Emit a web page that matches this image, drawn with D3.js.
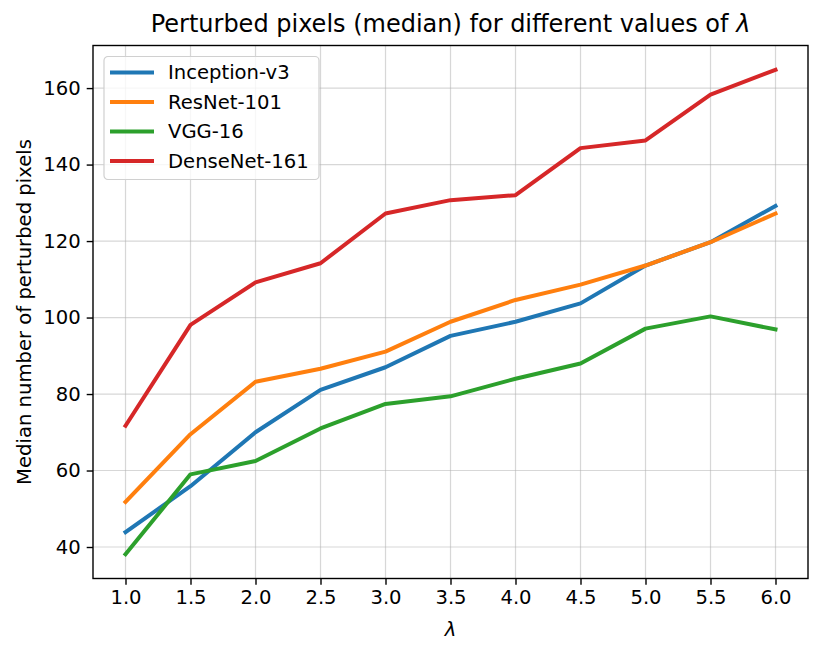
<!DOCTYPE html>
<html>
<head>
<meta charset="utf-8">
<script src="https://cdn.jsdelivr.net/npm/d3@7"></script>
<style>
  body { margin: 0; background: #fff; }
  svg { font-family: "DejaVu Sans", sans-serif; }
</style>
</head>
<body>
<div id="chart"></div>
<script>
const lambdas = [ 1.0, 1.5, 2.0, 2.5, 3.0, 3.5, 4.0, 4.5, 5.0, 5.5, 6.0 ];

const inception = [ 43.9, 55.9, 70, 81.1, 87, 95.2, 98.9, 103.7, 113.6, 119.7, 129.2 ];
const resnet = [ 51.8, 69.5, 83.2, 86.6, 91.1, 98.9, 104.6, 108.6, 113.6, 119.7, 127.2 ];
const vgg = [ 38.1, 59, 62.5, 71, 77.4, 79.4, 84, 88, 97.1, 100.3, 96.9 ];
const densenet = [ 71.7, 98.1, 109.2, 114.2, 127.2, 130.7, 132, 144.3, 146.3, 158.3, 164.8 ];

const seriesNames = [ 'Inception-v3', 'ResNet-101', 'VGG-16', 'DenseNet-161' ];
const seriesColors = [ '#1f77b4', '#ff7f0e', '#2ca02c', '#d62728' ];
const yTicks = [ 40, 60, 80, 100, 120, 140, 160 ];

const series = [ inception, resnet, vgg, densenet ].map((values, i) => ({
  name: seriesNames[i],
  color: seriesColors[i],
  values: values.map((v, j) => ({ x: lambdas[j], y: v }))
}));

const width = 830;
const height = 654;
const margin = { top: 45.5, right: 22, bottom: 75.5, left: 93 };
const w = width - margin.left - margin.right;
const h = height - margin.top - margin.bottom;
const fs = 19.6;

const svg = d3.select('#chart').append('svg')
  .attr('width', width)
  .attr('height', height)
  .attr('viewBox', [ 0, 0, width, height ]);

const plot = svg.append('g')
  .attr('transform', `translate(${margin.left},${margin.top})`);

// matplotlib style 5% margins
const allY = series.flatMap(s => s.values.map(d => d.y));
const [ ymin, ymax ] = d3.extent(allY);
const [ xmin, xmax ] = d3.extent(lambdas);
const xpad = (xmax - xmin) * 0.05;
const ypad = (ymax - ymin) * 0.05;

const x = d3.scaleLinear().domain([ xmin - xpad, xmax + xpad ]).range([ 0, w ]);
const y = d3.scaleLinear().domain([ ymin - ypad, ymax + ypad ]).range([ h, 0 ]);

// grid
plot.append('g')
  .selectAll('line')
    .data(lambdas)
  .enter().append('line')
    .attr('x1', d => x(d)).attr('x2', d => x(d))
    .attr('y1', 0).attr('y2', h)
    .attr('stroke', '#b0b0b0').attr('stroke-opacity', 0.5).attr('stroke-width', 1.2);
plot.append('g')
  .selectAll('line')
    .data(yTicks)
  .enter().append('line')
    .attr('y1', d => y(d)).attr('y2', d => y(d))
    .attr('x1', 0).attr('x2', w)
    .attr('stroke', '#b0b0b0').attr('stroke-opacity', 0.5).attr('stroke-width', 1.2);

// axes
const xAxis = plot.append('g')
  .attr('transform', `translate(0,${h})`)
  .call(d3.axisBottom(x).tickValues(lambdas).tickFormat(d3.format('.1f')).tickSize(6.3).tickPadding(5.5))
  .attr('font-size', fs)
  .attr('font-family', '"DejaVu Sans", sans-serif');
xAxis.select('.domain').remove();
xAxis.selectAll('line').attr('stroke-width', 1.4);
xAxis.selectAll('text').attr('fill', '#000');

const yAxis = plot.append('g')
  .call(d3.axisLeft(y).tickValues(yTicks).tickSize(6.3).tickPadding(6))
  .attr('font-size', fs)
  .attr('font-family', '"DejaVu Sans", sans-serif');
yAxis.select('.domain').remove();
yAxis.selectAll('line').attr('stroke-width', 1.4);
yAxis.selectAll('text').attr('fill', '#000');

// lines
const line = d3.line().x(d => x(d.x)).y(d => y(d.y));
plot.append('g')
  .selectAll('path')
    .data(series)
  .enter().append('path')
    .attr('d', d => line(d.values))
    .attr('fill', 'none')
    .attr('stroke', d => d.color)
    .attr('stroke-width', 4)
    .attr('stroke-linejoin', 'round')
    .attr('stroke-linecap', 'square');

// frame
plot.append('rect')
  .attr('width', w).attr('height', h)
  .attr('fill', 'none').attr('stroke', '#000').attr('stroke-width', 1.4);

// legend
const legend = plot.append('g')
  .attr('transform', 'translate(11,11)');
legend.append('rect')
  .attr('width', 215).attr('height', 123)
  .attr('rx', 4)
  .attr('fill', '#fff').attr('fill-opacity', 0.8)
  .attr('stroke', '#d0d0d0').attr('stroke-width', 1.2);
const item = legend.selectAll('g.item')
    .data(series)
  .enter().append('g')
    .attr('class', 'item')
    .attr('transform', (d, i) => `translate(0,${16 + i * 29.5})`);
item.append('line')
  .attr('x1', 6).attr('x2', 50)
  .attr('stroke', d => d.color).attr('stroke-width', 4);
item.append('text')
  .attr('x', 64).attr('dy', '0.35em')
  .attr('font-size', fs)
  .text(d => d.name);

// title and labels
svg.append('text')
  .attr('x', margin.left + w / 2).attr('y', 32)
  .attr('text-anchor', 'middle')
  .attr('font-size', 24)
  .html('Perturbed pixels (median) for different values of <tspan font-style="italic">λ</tspan>');

svg.append('text')
  .attr('x', margin.left + w / 2).attr('y', 636)
  .attr('text-anchor', 'middle')
  .attr('font-size', fs)
  .attr('font-style', 'italic')
  .text('λ');

svg.append('text')
  .attr('transform', `translate(31,${margin.top + h / 2}) rotate(-90)`)
  .attr('text-anchor', 'middle')
  .attr('font-size', fs)
  .text('Median number of perturbed pixels');
</script>
</body>
</html>
